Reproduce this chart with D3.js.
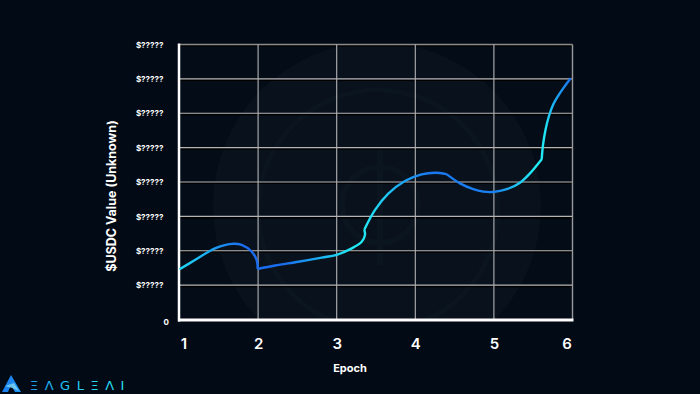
<!DOCTYPE html>
<html>
<head>
<meta charset="utf-8">
<script src="https://cdn.jsdelivr.net/npm/d3@7"></script>
<style>
  html, body { margin: 0; padding: 0; background: #020a16; }
  svg { display: block; }
</style>
</head>
<body>
<svg class="chart"></svg>
<script>
// data
const epochs = [1.0, 1.197, 1.452, 1.664, 1.791, 1.919, 1.982, 1.995,
  2.215, 2.511, 2.809, 3.0, 3.191, 3.318, 3.36, 3.351,
  3.486, 3.656, 3.869, 4.081, 4.251, 4.397,
  4.569, 4.738, 4.865, 4.99, 5.163, 5.332, 5.459, 5.608,
  5.625, 5.657, 5.701, 5.752, 5.816, 5.893, 5.977]
const usdcValues = [1.46, 1.73, 2.07, 2.2, 2.17, 1.97, 1.73, 1.47,
  1.57, 1.68, 1.8, 1.88, 2.07, 2.26, 2.46, 2.61,
  3.18, 3.66, 4.03, 4.22, 4.27, 4.23,
  3.96, 3.79, 3.72, 3.71, 3.79, 3.98, 4.25, 4.66,
  5.08, 5.52, 5.92, 6.24, 6.5, 6.76, 7.02]
// indexes where the curve has a corner
const breaks = [7, 15, 21, 29]

const xTicks = [1, 2, 3, 4, 5, 6]
const yTicks = [0, 1, 2, 3, 4, 5, 6, 7, 8]
const yTickLabels = ['0', '$?????', '$?????', '$?????', '$?????', '$?????', '$?????', '$?????', '$?????']

const width = 700
const height = 394
const plotLeft = 179.5
const plotRight = 572.5
const plotTop = 44.5
const plotBottom = 319.5

const x = d3.scaleLinear().domain([1, 6]).range([plotLeft, plotRight])
const y = d3.scaleLinear().domain([0, 8]).range([plotBottom, plotTop])

const svg = d3.select('.chart')
  .attr('width', width)
  .attr('height', height)

/**
 * Background, plot area and the faint coin watermark
 */
function drawBackground () {
  svg.append('rect')
    .attr('width', width)
    .attr('height', height)
    .attr('fill', '#020a16')

  const defs = svg.append('defs')
  defs.append('clipPath')
    .attr('id', 'plot-clip')
    .append('rect')
    .attr('x', plotLeft)
    .attr('y', plotTop)
    .attr('width', plotRight - plotLeft)
    .attr('height', plotBottom - plotTop)

  svg.append('rect')
    .attr('x', plotLeft)
    .attr('y', plotTop)
    .attr('width', plotRight - plotLeft)
    .attr('height', plotBottom - plotTop)
    .attr('fill', '#040c17')

  const mark = svg.append('g').attr('clip-path', 'url(#plot-clip)')
  mark.append('circle')
    .attr('cx', 377)
    .attr('cy', 206)
    .attr('r', 164)
    .attr('fill', '#08111c')
  mark.append('circle')
    .attr('cx', 378)
    .attr('cy', 210)
    .attr('r', 120)
    .attr('fill', 'none')
    .attr('stroke', '#0b1520')
    .attr('stroke-width', 5)
  mark.append('circle')
    .attr('cx', 380)
    .attr('cy', 205)
    .attr('r', 38)
    .attr('fill', 'none')
    .attr('stroke', '#0b1520')
    .attr('stroke-width', 6)
  mark.append('line')
    .attr('x1', 380).attr('x2', 380)
    .attr('y1', 150).attr('y2', 265)
    .attr('stroke', '#0b1520')
    .attr('stroke-width', 6)
}

/**
 * Grid lines with their dark shadow, plus the white axes
 */
function drawGrid () {
  const grid = svg.append('g').attr('class', 'grid')

  grid.selectAll('.h-shadow')
    .data(yTicks.slice(1))
    .enter()
    .append('line')
    .attr('x1', plotLeft)
    .attr('x2', plotRight)
    .attr('y1', function (d) { return y(d) + 1.3 })
    .attr('y2', function (d) { return y(d) + 1.3 })
    .attr('stroke', '#000000')
    .attr('stroke-width', 1.4)

  grid.selectAll('.h-line')
    .data(yTicks.slice(1))
    .enter()
    .append('line')
    .attr('x1', plotLeft)
    .attr('x2', plotRight)
    .attr('y1', function (d) { return y(d) })
    .attr('y2', function (d) { return y(d) })
    .attr('stroke', function (d) { return d === 8 ? '#8a8a8a' : '#b4b4b4' })
    .attr('stroke-width', function (d) { return d === 8 ? 1.6 : 1.1 })

  grid.selectAll('.v-line')
    .data(xTicks.slice(1))
    .enter()
    .append('line')
    .attr('x1', function (d) { return x(d) })
    .attr('x2', function (d) { return x(d) })
    .attr('y1', plotTop)
    .attr('y2', plotBottom)
    .attr('stroke', function (d) { return d === 6 ? '#9a9a9a' : '#b4b4b4' })
    .attr('stroke-width', function (d) { return d === 6 ? 1.4 : 1.1 })

  // axes
  svg.append('line')
    .attr('x1', plotLeft - 0.5)
    .attr('x2', plotLeft - 0.5)
    .attr('y1', plotTop - 1)
    .attr('y2', plotBottom + 2)
    .attr('stroke', '#ffffff')
    .attr('stroke-width', 2.5)
  svg.append('line')
    .attr('x1', plotLeft - 1.5)
    .attr('x2', plotRight + 1)
    .attr('y1', plotBottom + 0.5)
    .attr('y2', plotBottom + 0.5)
    .attr('stroke', '#ffffff')
    .attr('stroke-width', 3)
}

/**
 * Tick labels and axis titles
 */
function drawAxes () {
  const yAxis = svg.append('g')
    .attr('transform', 'translate(' + (plotLeft - 16) + ',0)')
    .call(d3.axisLeft(y)
      .tickValues(yTicks)
      .tickSize(0)
      .tickPadding(0)
      .tickFormat(function (d, i) { return yTickLabels[i] }))
  yAxis.select('.domain').remove()
  yAxis.selectAll('text')
    .attr('fill', '#ffffff')
    .attr('font-family', 'Inter, sans-serif')
    .attr('font-weight', 700)
    .attr('font-size', 8)
    .attr('x', function (d) { return d === 0 ? 5.5 : 0 })
    .attr('dy', function (d) { return d === 0 ? '0.62em' : '0.34em' })

  const xAxis = svg.append('g')
    .attr('transform', 'translate(0,' + plotBottom + ')')
    .call(d3.axisBottom(x)
      .tickValues(xTicks)
      .tickSize(0)
      .tickPadding(19)
      .tickFormat(d3.format('d')))
  xAxis.select('.domain').remove()
  xAxis.selectAll('text')
    .attr('fill', '#ffffff')
    .attr('font-family', 'Inter, sans-serif')
    .attr('font-weight', 600)
    .attr('font-size', 15)
    .attr('x', function (d) { return d === 1 ? 4 : (d === 6 ? -6 : 0) })

  svg.append('text')
    .attr('x', 350)
    .attr('y', 371.5)
    .attr('text-anchor', 'middle')
    .attr('fill', '#ffffff')
    .attr('font-family', 'Inter, sans-serif')
    .attr('font-weight', 700)
    .attr('font-size', 11)
    .text('Epoch')

  svg.append('text')
    .attr('transform', 'translate(116,196) rotate(-90)')
    .attr('text-anchor', 'middle')
    .attr('fill', '#ffffff')
    .attr('font-family', 'Inter, sans-serif')
    .attr('font-weight', 700)
    .attr('font-size', 12.5)
    .text('$USDC Value (Unknown)')
}

/**
 * The value curve, drawn as smooth pieces that meet at corners
 */
function drawCurve () {
  const grad = svg.select('defs').append('linearGradient')
    .attr('id', 'line-grad')
    .attr('gradientUnits', 'userSpaceOnUse')
    .attr('x1', plotLeft)
    .attr('x2', plotRight)
    .attr('y1', 0)
    .attr('y2', 0)
  const stops = [
    [179, '#1ed8f2'], [200, '#1bb8f2'], [225, '#1a8af2'], [245, '#1a6cf0'],
    [285, '#1a6ef0'], [315, '#1aa8f2'], [340, '#1ed8f2'], [360, '#22ecf4'],
    [385, '#1ec8f2'], [410, '#1a98f2'], [430, '#1a78f0'], [495, '#1a80f0'],
    [515, '#1ec0f2'], [535, '#22ecf4'], [545, '#22e4f4'], [555, '#1aa8f2'],
    [572, '#1a6ef0']
  ]
  grad.selectAll('stop')
    .data(stops)
    .enter()
    .append('stop')
    .attr('offset', function (d) { return Math.max(0, (d[0] - plotLeft) / (plotRight - plotLeft)) })
    .attr('stop-color', function (d) { return d[1] })

  const points = epochs.map(function (e, i) { return [e, usdcValues[i]] })
  const cuts = [0].concat(breaks, [points.length - 1])
  const pieces = []
  for (let i = 0; i < cuts.length - 1; i++) {
    pieces.push(points.slice(cuts[i], cuts[i + 1] + 1))
  }

  const line = d3.line()
    .x(function (d) { return x(d[0]) })
    .y(function (d) { return y(d[1]) })
    .curve(d3.curveCatmullRom.alpha(0.5))

  svg.append('path')
    .attr('d', pieces.map(function (p) { return line(p) }).join(''))
    .attr('fill', 'none')
    .attr('stroke', 'url(#line-grad)')
    .attr('stroke-width', 2.4)
    .attr('stroke-linejoin', 'round')
}

/**
 * Brand mark in the bottom left corner
 */
function drawLogo () {
  const grad = svg.select('defs').append('linearGradient')
    .attr('id', 'logo-grad')
    .attr('gradientUnits', 'userSpaceOnUse')
    .attr('x1', 2).attr('x2', 130)
    .attr('y1', 0).attr('y2', 0)
  grad.append('stop').attr('offset', 0).attr('stop-color', '#1a7cf0')
  grad.append('stop').attr('offset', 0.5).attr('stop-color', '#1fc8f2')
  grad.append('stop').attr('offset', 1).attr('stop-color', '#2ae8f2')

  const logo = svg.append('g')
  logo.append('path')
    .attr('d', 'M2,392 L11,375 L21,392 L15,392 L11,385 L8,392 Z')
    .attr('fill', 'url(#logo-grad)')
  logo.append('path')
    .attr('d', 'M5,386 L14,383 L19,391 L12,388 Z')
    .attr('fill', '#7fd8f5')
    .attr('opacity', 0.8)

  logo.append('text')
    .attr('x', 30)
    .attr('y', 389.5)
    .attr('fill', 'url(#logo-grad)')
    .attr('font-family', 'DejaVu Sans, sans-serif')
    .attr('font-weight', 400)
    .attr('font-size', 13)
    .attr('letter-spacing', 6.5)
    .text('ΞΛGLΞΛI')
}

drawBackground()
drawGrid()
drawCurve()
drawAxes()
drawLogo()
</script>
</body>
</html>
